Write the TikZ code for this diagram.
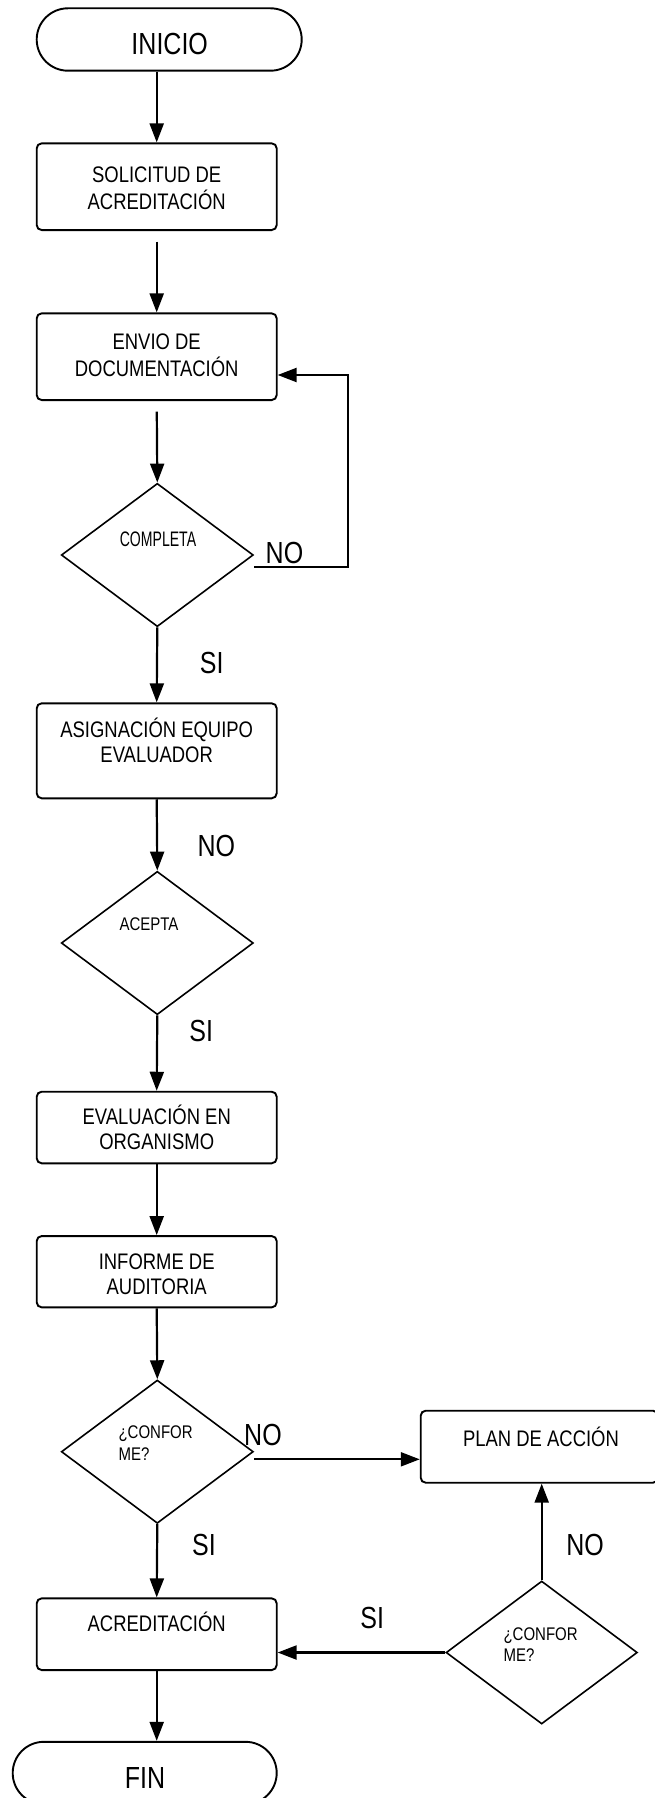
\documentclass[tikz,border=0pt]{standalone}
\usepackage{fontspec}
\usepackage{graphicx}
\setmainfont{Liberation Sans}[FakeStretch=0.82]
\usetikzlibrary{shapes.geometric,arrows.meta}
\newcommand{\twolines}[2]{\begin{tabular}[t]{@{}c@{}}#1\\#2\end{tabular}}
\newcommand{\twoleft}[2]{\begin{tabular}[t]{@{}l@{}}#1\\#2\end{tabular}}
\begin{document}
\begin{tikzpicture}[x=1pt,y=-1pt,
  box/.style={draw, rounded corners=5pt, minimum width=240pt, inner sep=0pt, line width=1.9pt},
  term/.style={draw, rounded corners=31.2pt, minimum height=62.4pt, inner sep=0pt, line width=1.9pt},
  dec/.style={draw, diamond, minimum width=192pt, minimum height=143.3pt, inner sep=0pt, line width=1.6pt},
  txt/.style={font=\fontsize{22.5}{25}\selectfont, anchor=base, inner sep=0pt},
  big/.style={font=\fontsize{30.5}{36}\selectfont, anchor=base, inner sep=0pt},
  small/.style={font=\fontsize{18.3}{21.7}\selectfont, anchor=base west, inner sep=0pt},
  cmp/.style={font=\fontsize{21}{25}\selectfont, anchor=base, inner sep=0pt},
  arr/.style={-{Triangle[length=19pt,width=14pt]}, line width=2.2pt}]
\useasboundingbox (0,0) rectangle (655,1798);
\clip (0,0) rectangle (655,1798);
% shapes
\node[term, minimum width=265pt] (n0) at (169.2,39.5) {};
\node[box, minimum height=86.7pt] (b1) at (156.7,186.7) {};
\node[box, minimum height=86.7pt] (b2) at (156.7,356.7) {};
\node[dec] (d1) at (157.3,555) {};
\node[box, minimum height=95pt] (b3) at (156.7,750.8) {};
\node[dec] (d2) at (157.3,943) {};
\node[box, minimum height=71.6pt] (b4) at (156.7,1127.5) {};
\node[box, minimum height=71.3pt] (b5) at (156.7,1271.7) {};
\node[dec] (d3) at (157.3,1451.7) {};
\node[box, minimum height=71.7pt] (b6) at (156.7,1634.2) {};
\node[box, minimum width=237.3pt, minimum height=72pt] (b7) at (539.35,1446.7) {};
\node[dec, minimum width=191.3pt, minimum height=143pt] (d4) at (541.7,1652.5) {};
\node[term, minimum width=264pt] (n1) at (144.7,1773) {};
% texts
\node[big] (t0) at (169.7,55) {INICIO};
\node[txt] (t1) at (156.7,182.5) {\twolines{SOLICITUD DE}{ACREDITACIÓN}};
\node[txt] (t2) at (156.7,349.2) {\twolines{ENVIO DE}{DOCUMENTACIÓN}};
\node[cmp] (t3) at (158,546.7) {\scalebox{0.817}[1]{COMPLETA}};
\node[txt] (t4) at (156.7,737.5) {\twolines{ASIGNACIÓN EQUIPO}{EVALUADOR}};
\node[small] (t5) at (119.3,930.7) {ACEPTA};
\node[txt] (t6) at (156.7,1124.2) {\twolines{EVALUACIÓN EN}{ORGANISMO}};
\node[txt] (t7) at (156.7,1269.2) {\twolines{INFORME DE}{AUDITORIA}};
\node[small] (t8) at (118.3,1438.3) {\twoleft{¿CONFOR}{ME?}};
\node[txt] (t9) at (156.7,1631.7) {ACREDITACIÓN};
\node[txt] (t10) at (541,1446.7) {PLAN DE ACCIÓN};
\node[small] (t11) at (503.3,1640) {\twoleft{¿CONFOR}{ME?}};
\node[big] (t12) at (145,1788.3) {FIN};
% branch labels
\node[big] (l1) at (284.5,563.3) {NO};
\node[big] (l2) at (211.7,673.3) {SI};
\node[big] (l3) at (216.3,856.7) {NO};
\node[big] (l4) at (201.3,1041.7) {SI};
\node[big] (l5) at (263,1445) {NO};
\node[big] (l6) at (204,1555) {SI};
\node[big] (l7) at (585,1555) {NO};
\node[big] (l8) at (372.3,1628.3) {SI};
% connectors
\draw[arr] (n0.south -| b1.north) -- (b1.north);
\draw[arr, shorten <=10.7pt] (b1.south) -- (b2.north);
\draw[arr, shorten <=10.7pt] (b2.south) -- (d1.north);
\draw[arr] (d1.south) -- (b3.north);
\draw[arr] (b3.south) -- (d2.north);
\draw[arr] (d2.south) -- (b4.north);
\draw[arr] (b4.south) -- (b5.north);
\draw[arr] (b5.south) -- (d3.north);
\draw[arr] (d3.south) -- (b6.north);
\draw[arr] (b6.south) -- (b6.south |- n1.north);
\coordinate (lp) at (348.3,566.7);
\draw[arr] (d1.east |- lp) -- (lp) |- ([yshift=-18.3pt]b2.east);
\draw[arr] ([yshift=-7.6pt]d3.east) -- ([yshift=-7.6pt]d3.east -| b7.west);
\draw[arr] (d4.north) -- (d4.north |- b7.south);
\draw[arr] (d4.west) -- (d4.west -| b6.east);
\end{tikzpicture}
\end{document}
